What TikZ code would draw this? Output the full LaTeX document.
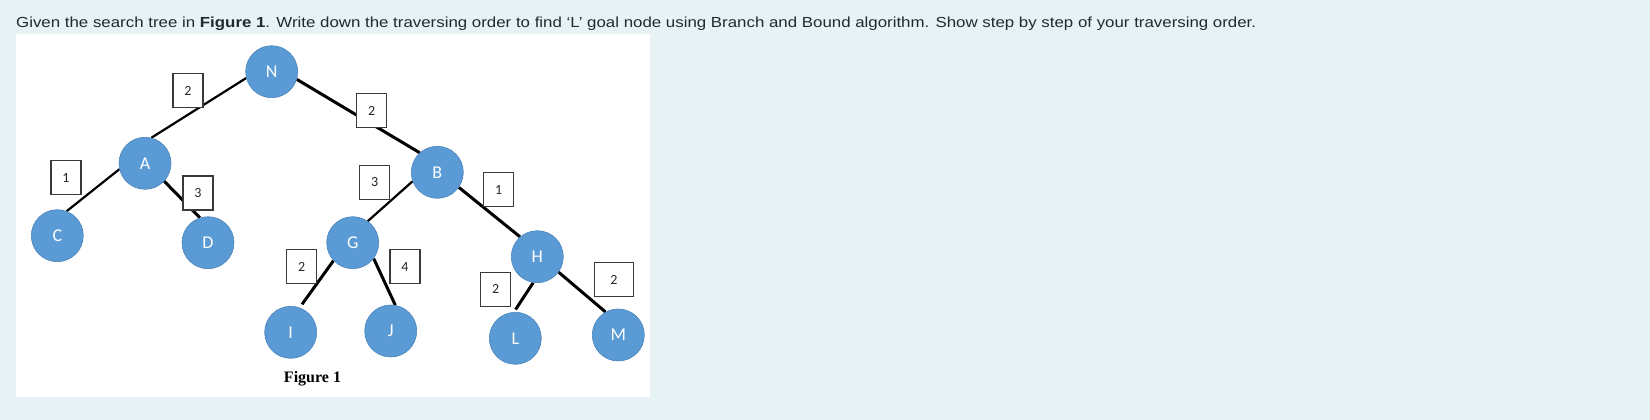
\documentclass[tikz,border=0pt]{standalone}
\usepackage{fontspec}
\setmainfont{Liberation Sans}
\newfontfamily\calibrif{Carlito}
\newfontfamily\timesf{Liberation Serif}
\pgfdeclarelayer{bglayer}
\pgfdeclarelayer{edgelayer}
\pgfsetlayers{bglayer,edgelayer,main}
\definecolor{pagebg}{HTML}{E7F2F4}
\definecolor{nodefill}{HTML}{5B9BD5}
\definecolor{nodeline}{HTML}{4A84BC}
\definecolor{boxline}{HTML}{3A3A3A}
\definecolor{txt}{HTML}{1F2A33}
\begin{document}
\begin{tikzpicture}[x=1pt,y=-1pt,
  tnode/.style={circle,fill=nodefill,draw=nodeline,line width=0.6pt,minimum size=52pt,inner sep=0pt,text=white,font=\calibrif\fontsize{18}{21}\selectfont},
  wbox/.style={rectangle,fill=white,draw=boxline,line width=1.2pt,minimum width=30pt,minimum height=34pt,inner sep=0pt,font=\calibrif\fontsize{14}{16}\selectfont,text=black!85},
  tedge/.style={line width=3pt,black},
  thinedge/.style={line width=2.2pt,black}]
\begin{pgfonlayer}{bglayer}
\fill[pagebg] (0,0) rectangle (1650,420);
\fill[white] (16,34) rectangle (650,397.3);
\end{pgfonlayer}
\useasboundingbox (0,0) rectangle (1650,420);

\node[anchor=base west,inner sep=0pt,text=txt] (question) at (16,27.7)
  {\resizebox{1240pt}{\height}{\fontsize{14.6}{17}\selectfont Given the search tree in \textbf{Figure 1}. Write down the traversing order to find ‘L’ goal node using Branch and Bound algorithm. Show step by step of your traversing order.}};

% tree nodes
\node[tnode] (N) at (271.7,71.7) {N};
\node[tnode] (A) at (145,163.3) {A};
\node[tnode] (C) at (57.3,235.7) {C};
\node[tnode] (D) at (208,242.7) {D};
\node[tnode] (B) at (437.3,172.3) {B};
\node[tnode] (G) at (352.7,242.7) {G};
\node[tnode] (H) at (537.3,256.7) {H};
\node[tnode] (I) at (290.7,332.3) {I};
\node[tnode] (J) at (390.7,331) {J};
\node[tnode] (L) at (515.3,338.3) {L};
\node[tnode] (M) at (618.3,335) {M};

% edges
\begin{pgfonlayer}{edgelayer}
\draw[thinedge] (A.76) -- (N.194);
\draw[thinedge] (A.193) -- (C.69);
\draw[tedge] (A.317) -- (D.108);
\draw[tedge] (N.343) -- (B.132);
\draw[thinedge] (B.200) -- (G.55);
\draw[tedge] (B.325) -- (H.131);
\draw[tedge,shorten >=4pt] (G.223) -- (I.70);
\draw[tedge] (G.323) -- (J.80);
\draw[tedge,shorten >=3pt] (H.261) -- (L.93);
\draw[tedge] (H.324) -- (M.119);
\end{pgfonlayer}

% cost boxes
\node[wbox] (wNA) at (188,90.5) {2};
\node[wbox] (wAC) at (66,177.5) {1};
\node[wbox] (wAD) at (198,193) {3};
\node[wbox] (wNB) at (371.7,110.8) {2};
\node[wbox] (wBG) at (374.7,182.5) {3};
\node[wbox] (wBH) at (498.7,189.5) {1};
\node[wbox] (wGI) at (301.7,266.8) {2};
\node[wbox] (wGJ) at (405,266.8) {4};
\node[wbox] (wHL) at (495.7,289.2) {2};
\node[wbox,minimum width=39pt] (wHM) at (613.8,279.5) {2};

\node[anchor=base,inner sep=0pt,font=\timesf\bfseries\fontsize{16}{19}\selectfont] (fig) at (312.5,382.7) {Figure 1};
\end{tikzpicture}
\end{document}
